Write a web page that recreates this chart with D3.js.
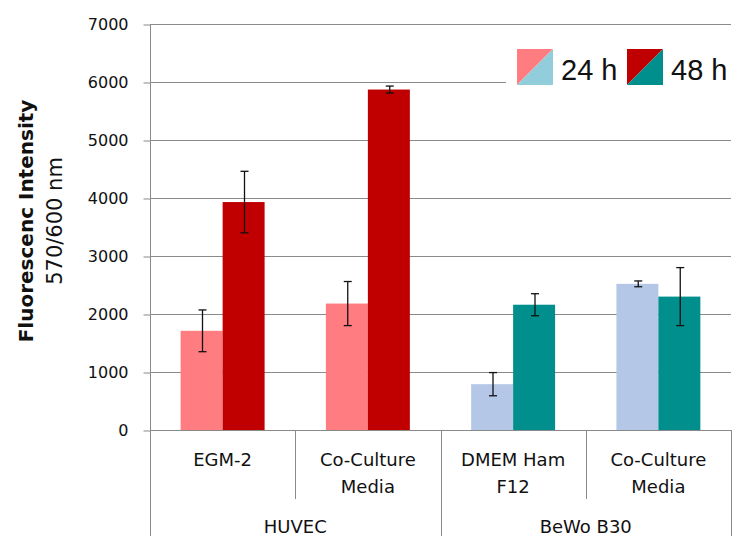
<!DOCTYPE html>
<html>
<head>
<meta charset="utf-8">
<script src="https://cdn.jsdelivr.net/npm/d3@7"></script>
<style>
  html, body { margin: 0; padding: 0; background: #fff; }
  svg { display: block; }
  text { fill: #111; }
</style>
</head>
<body>
<svg id="chart" width="734" height="536"></svg>
<script>
// Media conditions (x categories) and their cell line groups
const categories = ["EGM-2", "Co-Culture\nMedia", "DMEM Ham\nF12", "Co-Culture\nMedia"];
const cellLines = ["HUVEC", "HUVEC", "BeWo B30", "BeWo B30"];
const groupLabels = ["HUVEC", "BeWo B30"];
const seriesNames = ["24 h", "48 h"];

// Fluorescence intensity means and error (±)
const values24 = [1710, 2180, 790, 2520];
const errors24 = [360, 380, 200, 50];
const values48 = [3930, 5870, 2160, 2300];
const errors48 = [530, 60, 190, 500];

const yTicks = [0, 1000, 2000, 3000, 4000, 5000, 6000, 7000];

// Fill colours by cell line
const palette = {
  "HUVEC":    { "24 h": "#FF7C80", "48 h": "#C00000" },
  "BeWo B30": { "24 h": "#B4C7E7", "48 h": "#008F8C" }
};
const legendColors = {
  "24 h": ["#FF7C80", "#92CDDC"],
  "48 h": ["#C00000", "#008F8C"]
};

const mainFont = "'DejaVu Sans', sans-serif";
const legendFont = "'Liberation Sans', Arial, sans-serif";

const svg = d3.select("#chart");
const plotLeft = 150, plotRight = 731, plotTop = 24, plotBottom = 430;

const x = d3.scaleBand().domain(d3.range(categories.length)).range([plotLeft, plotRight]).padding(0);
const xs = d3.scaleBand().domain(seriesNames).range([0, x.bandwidth()]).paddingInner(0).paddingOuter(0.73);
const y = d3.scaleLinear().domain([0, 7000]).range([plotBottom, plotTop]);

const crisp = v => Math.round(v) + 0.5;
const gridColor = "#8A8A8A";

// Horizontal gridlines
svg.append("g").selectAll("line").data(yTicks.filter(t => t > 0)).join("line")
  .attr("x1", plotLeft).attr("x2", plotRight)
  .attr("y1", d => crisp(y(d))).attr("y2", d => crisp(y(d)))
  .attr("stroke", gridColor).attr("stroke-width", 1);

// Y axis with ticks and labels
const yAxis = d3.axisLeft(y).tickValues(yTicks).tickSize(7).tickPadding(15).tickFormat(d3.format("d"));
const yg = svg.append("g").attr("transform", `translate(${plotLeft + 0.5},0.5)`).call(yAxis);
yg.select(".domain").remove();
yg.selectAll(".tick line").attr("stroke", gridColor);
yg.selectAll(".tick text").style("font-family", mainFont).style("font-size", "16px").attr("fill", "#111");
svg.append("line").attr("x1", plotLeft + 0.5).attr("x2", plotLeft + 0.5).attr("y1", plotTop).attr("y2", 536)
  .attr("stroke", gridColor);

// Bars
const rows = categories.map((c, i) => ({
  i, line: cellLines[i],
  bars: [
    { s: "24 h", v: values24[i], e: errors24[i] },
    { s: "48 h", v: values48[i], e: errors48[i] }
  ]
}));

const groups = svg.append("g").selectAll("g").data(rows).join("g")
  .attr("transform", d => `translate(${x(d.i)},0)`);

groups.selectAll("rect").data(d => d.bars.map(b => ({ ...b, line: d.line }))).join("rect")
  .attr("x", b => xs(b.s))
  .attr("width", xs.bandwidth())
  .attr("y", b => y(b.v))
  .attr("height", b => y(0) - y(b.v))
  .attr("fill", b => palette[b.line][b.s]);

// Error bars
const eb = groups.selectAll("g.err").data(d => d.bars).join("g").attr("class", "err")
  .attr("stroke", "#111").attr("stroke-width", 1.3);
const cx = b => Math.round(xs(b.s) + xs.bandwidth() / 2) + 0.5;
eb.append("line").attr("x1", cx).attr("x2", cx).attr("y1", b => y(b.v + b.e)).attr("y2", b => y(b.v - b.e));
eb.append("line").attr("x1", b => cx(b) - 4).attr("x2", b => cx(b) + 4).attr("y1", b => y(b.v + b.e)).attr("y2", b => y(b.v + b.e));
eb.append("line").attr("x1", b => cx(b) - 4).attr("x2", b => cx(b) + 4).attr("y1", b => y(b.v - b.e)).attr("y2", b => y(b.v - b.e));

// Category axis: baseline, dividers and two-level labels
const axisG = svg.append("g").attr("stroke", gridColor).attr("stroke-width", 1);
axisG.append("line").attr("x1", plotLeft).attr("x2", plotRight + 0.5).attr("y1", crisp(y(0))).attr("y2", crisp(y(0)));
d3.range(1, categories.length).forEach(i => {
  const xv = crisp(x(i));
  const isGroupEdge = cellLines[i] !== cellLines[i - 1];
  axisG.append("line").attr("x1", xv).attr("x2", xv).attr("y1", plotBottom).attr("y2", isGroupEdge ? 536 : 499);
});
axisG.append("line").attr("x1", crisp(plotRight)).attr("x2", crisp(plotRight)).attr("y1", plotBottom).attr("y2", 536);

const catText = svg.append("g").selectAll("text").data(categories).join("text")
  .attr("x", (d, i) => x(i) + x.bandwidth() / 2)
  .attr("y", 466)
  .attr("text-anchor", "middle")
  .style("font-family", mainFont).style("font-size", "18px");
catText.selectAll("tspan").data(d => d.split("\n")).join("tspan")
  .attr("x", function () { return this.parentNode.getAttribute("x"); })
  .attr("dy", (d, j) => j === 0 ? 0 : 27.3)
  .text(d => d);

groupLabels.forEach(g => {
  const idx = cellLines.map((c, i) => c === g ? i : -1).filter(i => i >= 0);
  const x0 = x(idx[0]), x1 = x(idx[idx.length - 1]) + x.bandwidth();
  svg.append("text").attr("x", (x0 + x1) / 2).attr("y", 533)
    .attr("text-anchor", "middle")
    .style("font-family", mainFont).style("font-size", "18px").text(g);
});

// Y axis title
const title = svg.append("g").attr("transform", "translate(0,221)");
title.append("text").attr("transform", "translate(33,0) rotate(-90)")
  .attr("text-anchor", "middle")
  .style("font-family", mainFont).style("font-weight", "bold").style("font-size", "20px")
  .text("Fluorescenc Intensity");
title.append("text").attr("transform", "translate(62,0) rotate(-90)")
  .attr("text-anchor", "middle")
  .style("font-family", mainFont).style("font-size", "21px")
  .text("570/600 nm");

// Legend
const legend = svg.append("g");
legend.append("rect").attr("x", 506).attr("y", 38).attr("width", 228).attr("height", 58).attr("fill", "#fff");
const legendItems = [
  { s: "24 h", sx: 517, tx: 561 },
  { s: "48 h", sx: 627, tx: 671 }
];
legendItems.forEach(it => {
  const sz = 36, sy = 49;
  const [c1, c2] = legendColors[it.s];
  legend.append("path").attr("d", `M${it.sx},${sy}H${it.sx + sz}L${it.sx},${sy + sz}Z`).attr("fill", c1);
  legend.append("path").attr("d", `M${it.sx + sz},${sy}V${sy + sz}H${it.sx}Z`).attr("fill", c2);
  legend.append("text").attr("x", it.tx).attr("y", 80)
    .style("font-family", legendFont).style("font-size", "29px").text(it.s);
});
</script>
</body>
</html>
